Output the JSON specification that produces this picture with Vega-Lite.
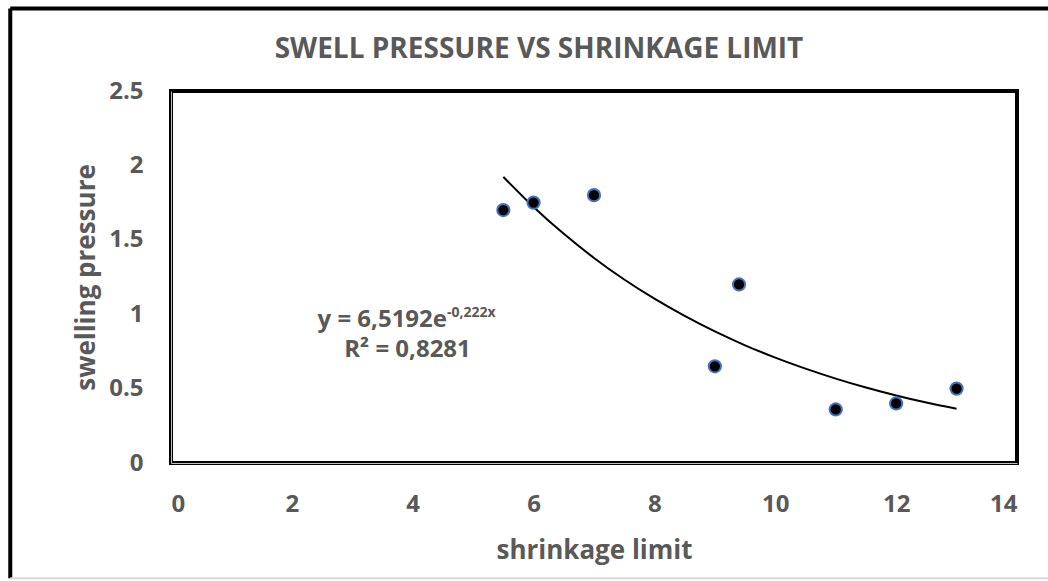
{
  "$schema": "https://vega.github.io/schema/vega-lite/v6.json",
  "width": 846,
  "height": 372,
  "autosize": {"type": "none"},
  "padding": {"left": 171, "top": 91, "right": 31, "bottom": 118},
  "background": "white",
  "config": {
    "view": {"stroke": "#000000", "strokeWidth": 4},
    "axis": {
      "labelFont": "Open Sans",
      "labelFontSize": 24,
      "labelFontWeight": "bold",
      "labelColor": "#595959",
      "titleFont": "Open Sans",
      "titleFontSize": 26,
      "titleFontWeight": "bold",
      "titleColor": "#595959",
      "grid": false,
      "ticks": false,
      "domain": true,
      "domainColor": "#BFBFBF",
      "domainWidth": 1
    }
  },
  "datasets": {
    "points": [
      {"shrinkage": 5.5, "swelling": 1.7},
      {"shrinkage": 6, "swelling": 1.75},
      {"shrinkage": 7, "swelling": 1.8},
      {"shrinkage": 9, "swelling": 0.65},
      {"shrinkage": 9.4, "swelling": 1.2},
      {"shrinkage": 11, "swelling": 0.36},
      {"shrinkage": 12, "swelling": 0.4},
      {"shrinkage": 13, "swelling": 0.5}
    ],
    "trend": [
      {"shrinkage": 5.5, "fit": 1.923},
      {"shrinkage": 6, "fit": 1.721},
      {"shrinkage": 6.5, "fit": 1.54},
      {"shrinkage": 7, "fit": 1.378},
      {"shrinkage": 7.5, "fit": 1.233},
      {"shrinkage": 8, "fit": 1.104},
      {"shrinkage": 8.5, "fit": 0.988},
      {"shrinkage": 9, "fit": 0.884},
      {"shrinkage": 9.5, "fit": 0.791},
      {"shrinkage": 10, "fit": 0.708},
      {"shrinkage": 10.5, "fit": 0.634},
      {"shrinkage": 11, "fit": 0.567},
      {"shrinkage": 11.5, "fit": 0.507},
      {"shrinkage": 12, "fit": 0.454},
      {"shrinkage": 12.5, "fit": 0.406},
      {"shrinkage": 13, "fit": 0.364}
    ]
  },
  "layer": [
    {
      "data": {"name": "trend"},
      "mark": {"type": "line", "color": "#000000", "strokeWidth": 2, "interpolate": "monotone"},
      "encoding": {
        "x": {"field": "shrinkage", "type": "quantitative"},
        "y": {"field": "fit", "type": "quantitative"}
      }
    },
    {
      "data": {"name": "points"},
      "mark": {"type": "point", "filled": true, "fill": "#000000", "stroke": "#4472C4", "strokeWidth": 2, "size": 150, "opacity": 1},
      "encoding": {
        "x": {
          "field": "shrinkage",
          "type": "quantitative",
          "scale": {"domain": [0, 14], "nice": false, "zero": false},
          "axis": {"values": [0, 2, 4, 6, 8, 10, 12, 14], "format": "~g", "labelPadding": 29, "title": "shrinkage limit", "titleY": 95, "titleBaseline": "alphabetic"}
        },
        "y": {
          "field": "swelling",
          "type": "quantitative",
          "scale": {"domain": [0, 2.5], "nice": false, "zero": false},
          "axis": {"values": [0, 0.5, 1, 1.5, 2, 2.5], "format": "~g", "labelPadding": 28, "title": "swelling pressure", "titleX": -77, "titleY": 186, "titleBaseline": "alphabetic", "titleAngle": -90}
        }
      }
    },
    {
      "data": {"values": [{}]},
      "mark": {"type": "text", "text": "SWELL PRESSURE VS SHRINKAGE LIMIT", "font": "Open Sans", "fontSize": 28, "fontWeight": "bold", "color": "#595959", "align": "center", "baseline": "alphabetic", "clip": false},
      "encoding": {"x": {"datum": 6.09}, "y": {"datum": 2.722}}
    },
    {
      "data": {"values": [{}]},
      "mark": {"type": "text", "text": "y = 6,5192e", "font": "Open Sans", "fontSize": 24, "fontWeight": "bold", "color": "#595959", "align": "right", "baseline": "alphabetic"},
      "encoding": {"x": {"datum": 4.567}, "y": {"datum": 0.914}}
    },
    {
      "data": {"values": [{}]},
      "mark": {"type": "text", "text": "-0,222x", "font": "Open Sans", "fontSize": 14, "fontWeight": "bold", "color": "#595959", "align": "left", "baseline": "alphabetic"},
      "encoding": {"x": {"datum": 4.567}, "y": {"datum": 0.981}}
    },
    {
      "data": {"values": [{}]},
      "mark": {"type": "text", "text": "R² = 0,8281", "font": "Open Sans", "fontSize": 24, "fontWeight": "bold", "color": "#595959", "align": "center", "baseline": "alphabetic"},
      "encoding": {"x": {"datum": 3.914}, "y": {"datum": 0.712}}
    },
    {
      "data": {"values": [{}]},
      "mark": {"type": "rule", "color": "#000000", "strokeWidth": 4, "clip": false},
      "encoding": {"x": {"datum": -2.66}, "y": {"datum": -0.775}, "y2": {"datum": 3.055}}
    },
    {
      "data": {"values": [{}]},
      "mark": {"type": "rule", "color": "#000000", "strokeWidth": 4, "clip": false},
      "encoding": {"y": {"datum": 3.055}, "x": {"datum": -2.66}, "x2": {"datum": 14.6}}
    },
    {
      "data": {"values": [{}]},
      "mark": {"type": "rule", "color": "#D9D9D9", "strokeWidth": 2, "clip": false},
      "encoding": {"y": {"datum": -0.775}, "x": {"datum": -2.66}, "x2": {"datum": 14.6}}
    }
  ]
}
